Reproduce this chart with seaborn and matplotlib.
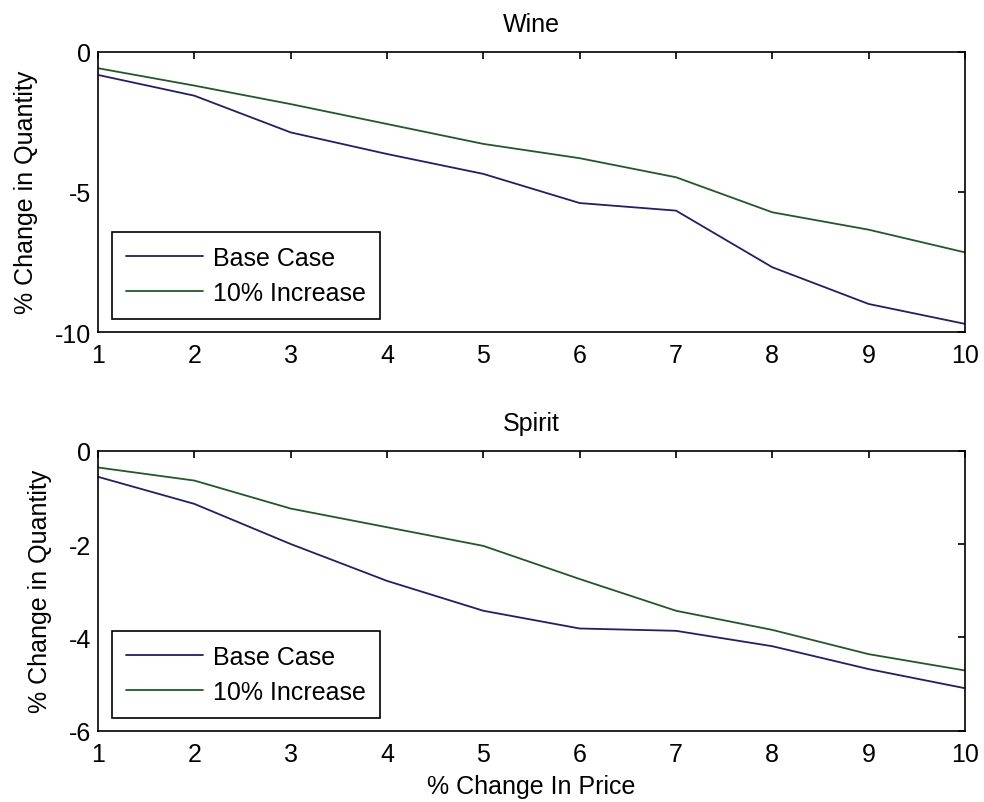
import numpy as np
import pandas as pd
import seaborn as sns
import matplotlib
matplotlib.use("Agg")
import matplotlib.pyplot as plt

# Data
price_change = [1, 2, 3, 4, 5, 6, 7, 8, 9, 10]
wine_base = [-0.83, -1.57, -2.88, -3.65, -4.36, -5.40, -5.67, -7.69, -9.00, -9.71]
wine_incr = [-0.59, -1.21, -1.87, -2.58, -3.29, -3.80, -4.48, -5.73, -6.35, -7.16]
spirit_base = [-0.56, -1.14, -2.00, -2.79, -3.43, -3.81, -3.86, -4.19, -4.68, -5.09]
spirit_incr = [-0.36, -0.64, -1.24, -1.64, -2.04, -2.75, -3.43, -3.84, -4.36, -4.71]
series_names = ["Base Case", "10% Increase"]
panel_titles = ["Wine", "Spirit"]
wine_yticks = [-10, -5, 0]
spirit_yticks = [-6, -4, -2, 0]

sns.set_style("white")
plt.rcParams['font.family'] = ['Liberation Sans', 'DejaVu Sans']
plt.rcParams['axes.unicode_minus'] = False
plt.rcParams['text.color'] = 'black'
plt.rcParams['axes.labelcolor'] = 'black'
plt.rcParams['xtick.direction'] = 'in'
plt.rcParams['ytick.direction'] = 'in'

colors = {"Base Case": "#1f1f6e", "10% Increase": "#1f5a27"}

def make_df(base, incr):
    return pd.DataFrame({
        "x": price_change * 2,
        "y": base + incr,
        "series": [series_names[0]] * len(price_change) + [series_names[1]] * len(price_change),
    })

fig = plt.figure(figsize=(9.84, 8.03), dpi=100)
ax1 = fig.add_axes([0.0996, 0.5853, 0.8811, 0.3491])
ax2 = fig.add_axes([0.0996, 0.0888, 0.8811, 0.3487])

fs = 18
for ax, df, title, yt in [
    (ax1, make_df(wine_base, wine_incr), panel_titles[0], wine_yticks),
    (ax2, make_df(spirit_base, spirit_incr), panel_titles[1], spirit_yticks),
]:
    sns.lineplot(data=df, x="x", y="y", hue="series", palette=colors, ax=ax, linewidth=1.3)
    ax.set_xlim(1, 10)
    ax.set_ylim(min(yt), max(yt))
    ax.set_xticks(price_change)
    ax.set_yticks(yt)
    ax.tick_params(axis='both', which='both', direction='in', length=5, width=1.2,
                   top=True, right=True, labelsize=fs, colors='black', labelcolor='black')
    ax.tick_params(axis='x', pad=8)
    ax.tick_params(axis='y', pad=5)
    for s in ax.spines.values():
        s.set_visible(True)
        s.set_color('black')
        s.set_linewidth(1.2)
    ax.set_title(title, fontsize=fs, pad=15, color='black')
    ax.set_ylabel("% Change in Quantity", fontsize=fs, labelpad=12, color='black')
    ax.set_xlabel("")
    leg = ax.legend(loc='lower left', bbox_to_anchor=(14 / 867, 13 / 280), borderaxespad=0,
                    fontsize=fs, frameon=True, fancybox=False, handlelength=3.1,
                    handletextpad=0.4, borderpad=0.55, labelspacing=0.45)
    leg.get_frame().set_edgecolor('black')
    leg.get_frame().set_linewidth(1.2)
    leg.get_frame().set_alpha(1)
    for t in leg.get_texts():
        t.set_color('black')

ax2.set_xlabel("% Change In Price", fontsize=fs, labelpad=6, color='black')

fig.savefig("out.png", dpi=100)
